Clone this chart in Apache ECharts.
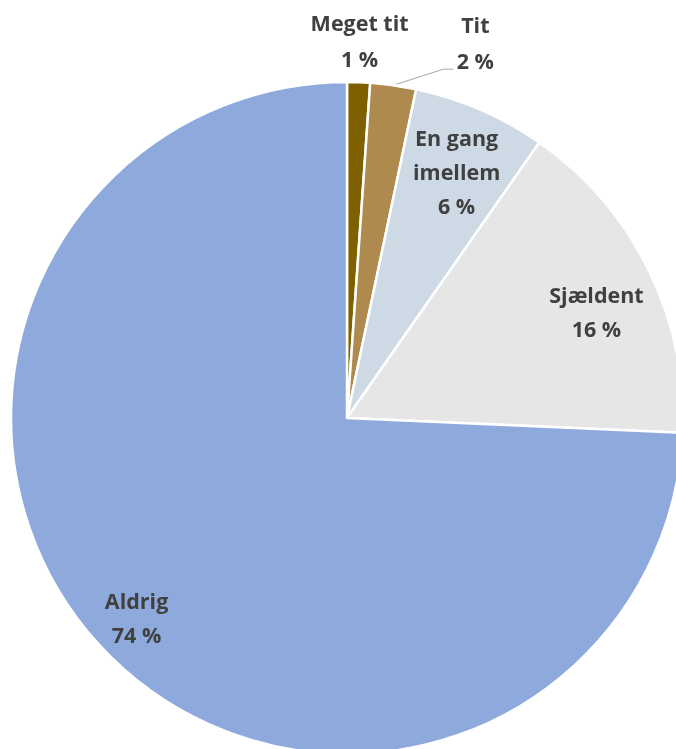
<!DOCTYPE html>
<html>
<head>
<meta charset="utf-8">
<script src="https://cdn.jsdelivr.net/npm/echarts@6/dist/echarts.min.js"></script>
<style>
  html, body { margin: 0; padding: 0; background: #fff; }
  #main { width: 676px; height: 749px; }
</style>
</head>
<body>
<div id="main"></div>
<script>
// data (percent)
var categories = ['Meget tit', 'Tit', 'En gang\nimellem', 'Sjældent', 'Aldrig'];
var values = [1.1, 2.2, 6.4, 16.0, 74.3];
var colors = ['#7F6000', '#AF8A4F', '#CDDAE5', '#E6E6E6', '#8EAADC'];

var center = [347, 418];
var radius = 336;
var labelFont = {
    fontFamily: 'Open Sans',
    fontWeight: 'bold',
    fontSize: 21.5,
    lineHeight: 34,
    color: '#404040'
};

// offsets for the inside labels (styling only)
var insideOffsets = [[0, 0], [0, 0], [0, 9], [2, 18], [-11, 11]];

function fmt(p) {
    return p.name + '\n' + Math.round(p.value) + ' %';
}

var mainData = categories.map(function (c, i) {
    return {
        name: c,
        value: values[i],
        itemStyle: { color: colors[i] },
        label: { show: i < 2 },
        labelLine: { show: i === 1 }
    };
});

var labelData = categories.map(function (c, i) {
    return {
        name: c,
        value: values[i],
        label: { show: i >= 2, offset: insideOffsets[i] }
    };
});

var myChart = echarts.init(document.getElementById('main'));
myChart.setOption({
    backgroundColor: '#fff',
    animation: false,
    series: [{
        name: 'main',
        type: 'pie',
        center: center,
        radius: radius,
        startAngle: 90,
        clockwise: true,
        avoidLabelOverlap: false,
        silent: true,
        itemStyle: {
            borderColor: '#fff',
            borderWidth: 2.5
        },
        label: Object.assign({
            position: 'outside',
            formatter: fmt
        }, labelFont, { lineHeight: 36 }),
        labelLine: {
            show: true,
            length: 20,
            length2: 10,
            lineStyle: { color: '#A6A6A6', width: 1 }
        },
        labelLayout: function (p) {
            var r = p.rect;
            if (p.dataIndex === 0) {
                return {
                    x: r.x + r.width / 2 + 1,
                    y: r.y - 38,
                    align: 'center',
                    verticalAlign: 'middle'
                };
            }
            if (p.dataIndex === 1) {
                var a = p.labelLinePoints ? p.labelLinePoints[0] : [r.x + 46, r.y + 2];
                return {
                    x: a[0] + 82,
                    y: a[1] - 40,
                    align: 'center',
                    verticalAlign: 'middle',
                    labelLinePoints: [a, [a[0] + 50, a[1] - 16], [a[0] + 60, a[1] - 16]]
                };
            }
        },
        data: mainData
    }, {
        name: 'labels',
        type: 'pie',
        center: center,
        radius: [210, radius],
        startAngle: 90,
        clockwise: true,
        avoidLabelOverlap: false,
        silent: true,
        itemStyle: { color: 'rgba(0,0,0,0)', borderWidth: 0 },
        label: Object.assign({
            position: 'inside',
            formatter: fmt
        }, labelFont),
        labelLine: { show: false },
        data: labelData
    }]
});
</script>
</body>
</html>
